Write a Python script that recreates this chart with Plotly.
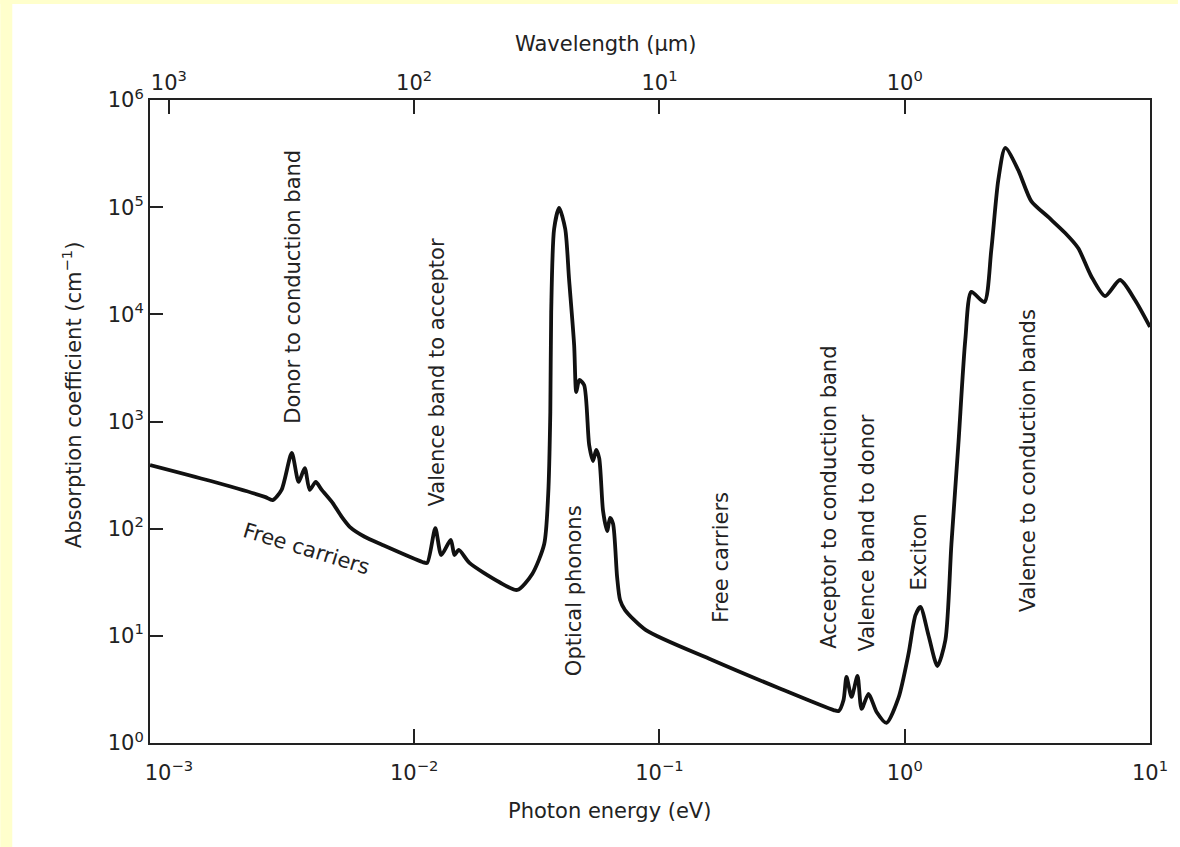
import plotly.graph_objects as go

# ---- data (photon energy in eV, absorption coefficient in cm^-1)
energy_ev = [
    8.38e-4, 1.47e-3, 2.46e-3, 2.65e-3, 2.88e-3, 3.17e-3, 3.38e-3, 3.58e-3, 3.75e-3,
    3.97e-3, 4.20e-3, 4.65e-3, 5.05e-3, 5.46e-3, 6.28e-3, 7.43e-3, 1.08e-2, 1.13e-2,
    1.22e-2, 1.29e-2, 1.41e-2, 1.46e-2, 1.52e-2, 1.68e-2, 2.22e-2, 2.63e-2, 3.03e-2,
    3.39e-2, 3.52e-2, 3.59e-2, 3.62e-2, 3.72e-2, 3.90e-2, 4.13e-2, 4.28e-2, 4.49e-2,
    4.58e-2, 4.71e-2, 4.93e-2, 5.17e-2, 5.36e-2, 5.52e-2, 5.68e-2, 5.89e-2, 6.12e-2,
    6.29e-2, 6.47e-2, 6.72e-2, 6.91e-2, 7.24e-2, 8.81e-2, 0.164, 0.306, 0.513, 0.538,
    0.563, 0.579, 0.607, 0.642, 0.667, 0.712, 0.768, 0.843, 0.943, 1.036, 1.106,
    1.159, 1.249, 1.359, 1.465, 1.550, 1.654, 1.767, 1.869, 2.111, 2.254, 2.407,
    2.570, 2.903, 3.280, 3.846, 4.510, 5.093, 5.753, 6.558, 7.549, 8.686, 10.0,
]
alpha_cm = [
    393, 280, 198, 185, 230, 508, 273, 368, 230,
    273, 230, 174, 130, 104, 84, 70.5, 48.9, 47.9,
    101, 56.8, 78.4, 56.8, 63.3, 47.9, 31.8, 26.8, 37.8,
    71.9, 211, 1230, 10500, 62600, 98200, 62600, 21400, 5170,
    1885, 2440, 2190, 604, 428, 542, 456, 146, 95.1,
    126, 111, 35.4, 21.6, 17.4, 11.3, 5.95, 3.26, 2.03, 1.99,
    2.52, 4.13, 2.69, 4.22, 2.08, 2.87, 1.95, 1.54, 2.63, 6.77, 15.6,
    18.6, 10.2, 5.23, 9.15, 71.9, 604, 5890, 16200, 13000, 39900, 179000,
    357000, 222000, 114000, 81000, 57400, 41600, 22800, 14800, 20900, 13600, 7620,
]

energy_tickvals = [1e-3, 1e-2, 1e-1, 1, 10]
energy_ticktext = ["10<sup>−3</sup>", "10<sup>−2</sup>", "10<sup>−1</sup>",
                   "10<sup>0</sup>", "10<sup>1</sup>"]
energy_tickmarks = [1e-2, 1e-1, 1]
wavelength_tickvals = [1e-3, 1e-2, 1e-1, 1]
wavelength_ticktext = ["10<sup>3</sup>", "10<sup>2</sup>", "10<sup>1</sup>", "10<sup>0</sup>"]
alpha_tickvals = [1, 10, 100, 1e3, 1e4, 1e5, 1e6]
alpha_ticktext = ["10<sup>0</sup>", "10<sup>1</sup>", "10<sup>2</sup>", "10<sup>3</sup>",
                  "10<sup>4</sup>", "10<sup>5</sup>", "10<sup>6</sup>"]

# label texts with their pixel centres and angles
labels = [
    ("Donor to conduction band", 293, 287, -90),
    ("Valence band to acceptor", 438, 372, -90),
    ("Optical phonons", 575, 591, -90),
    ("Free carriers", 722, 557, -90),
    ("Free carriers", 307, 549, 17),
    ("Acceptor to conduction band", 830, 497, -90),
    ("Valence band to donor", 868, 533, -90),
    ("Exciton", 921, 552, -90),
    ("Valence to conduction bands", 1030, 461, -90),
]

W, H = 1180, 847
L, R, T, B = 150, 28, 100, 104
PW, PH = W - L - R, H - T - B
FONT = "DejaVu Sans"
TXT = "#222222"
XR = [-3.077, 1.0]
YELLOW = "#FFFFCC"


def px(xp):
    return (xp - L) / PW


def py(yp):
    return (H - B - yp) / PH


fig = go.Figure()
fig.add_trace(go.Scatter(
    x=energy_ev, y=alpha_cm, mode="lines",
    line=dict(color="#111111", width=3.8, shape="spline", smoothing=0.7),
    showlegend=False, hoverinfo="skip",
))

axis_common = dict(type="log", range=XR, showgrid=False, zeroline=False)

fig.update_layout(
    width=W, height=H,
    margin=dict(l=L, r=R, t=T, b=B),
    paper_bgcolor="white",
    plot_bgcolor="white",
    font=dict(family=FONT, size=21, color=TXT),
    xaxis=dict(**axis_common, tickvals=energy_tickvals, ticktext=energy_ticktext,
               ticks="", showline=True, linecolor="#222", linewidth=2, mirror=False,
               tickfont=dict(size=21, color=TXT), ticklabelstandoff=10),
    xaxis2=dict(**axis_common, overlaying="x", side="top", anchor="y",
                tickvals=wavelength_tickvals, ticktext=wavelength_ticktext,
                ticks="inside", ticklen=14, tickwidth=1.5, tickcolor="#222",
                showline=True, linecolor="#222", linewidth=2,
                tickfont=dict(size=21, color=TXT)),
    xaxis3=dict(**axis_common, overlaying="x", side="bottom", anchor="y",
                tickvals=energy_tickmarks, ticks="inside", ticklen=14, tickwidth=1.5,
                tickcolor="#222", showticklabels=False, showline=False),
    yaxis=dict(type="log", range=[0, 6], showgrid=False, zeroline=False,
               tickvals=alpha_tickvals, ticktext=alpha_ticktext,
               ticks="inside", ticklen=13, tickwidth=1.5, tickcolor="#222",
               showline=True, linecolor="#222", linewidth=2, mirror=True,
               tickfont=dict(size=21, color=TXT)),
    shapes=[
        dict(type="rect", xref="paper", yref="paper", layer="below",
             x0=px(0), x1=px(12), y0=py(H), y1=py(0),
             fillcolor=YELLOW, line=dict(width=0)),
        dict(type="rect", xref="paper", yref="paper", layer="below",
             x0=px(0), x1=px(W), y0=py(4), y1=py(0),
             fillcolor=YELLOW, line=dict(width=0)),
    ],
)

# keep overlay axes drawn with invisible helper traces of the same curve
fig.add_trace(go.Scatter(x=energy_ev, y=alpha_cm, xaxis="x2", mode="lines",
                         line=dict(width=0), opacity=0, showlegend=False, hoverinfo="skip"))
fig.add_trace(go.Scatter(x=energy_ev, y=alpha_cm, xaxis="x3", mode="lines",
                         line=dict(width=0), opacity=0, showlegend=False, hoverinfo="skip"))

annotations = []
for text, xc, yc, ang in labels:
    annotations.append(dict(text=text, xref="paper", yref="paper", x=px(xc), y=py(yc),
                            xanchor="center", yanchor="middle", textangle=ang,
                            showarrow=False, font=dict(size=21, color=TXT, family=FONT)))
annotations += [
    dict(text="Absorption coefficient (cm<sup>−1</sup>)", xref="paper", yref="paper",
         x=px(72), y=py(395), textangle=-90, showarrow=False,
         xanchor="center", yanchor="middle", font=dict(size=21, color=TXT)),
    dict(text="Photon energy (eV)", xref="paper", yref="paper", x=px(610), y=py(811),
         showarrow=False, xanchor="center", yanchor="middle", font=dict(size=21, color=TXT)),
    dict(text="Wavelength (μm)", xref="paper", yref="paper", x=px(606), y=py(44),
         showarrow=False, xanchor="center", yanchor="middle", font=dict(size=21, color=TXT)),
]
fig.update_layout(annotations=annotations)

fig.write_html("out.html")
